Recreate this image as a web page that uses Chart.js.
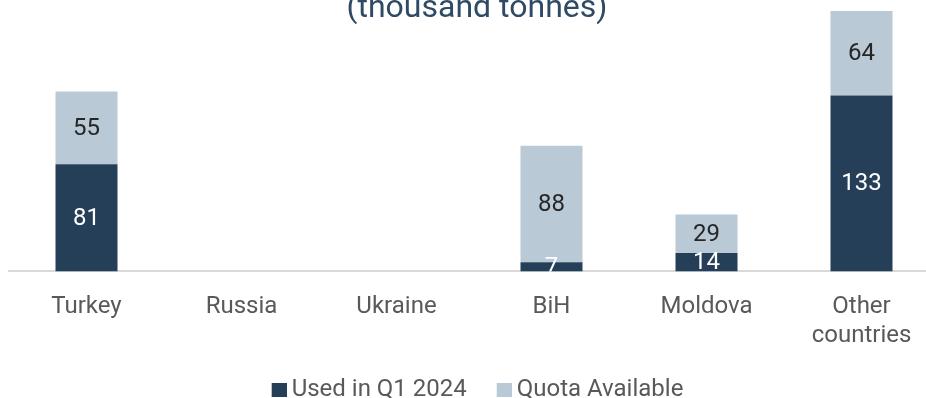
<!DOCTYPE html>
<html>
<head>
<meta charset="utf-8">
<script src="https://cdn.jsdelivr.net/npm/chart.js@4.4.1/dist/chart.umd.min.js"></script>
<style>
  html, body { margin: 0; padding: 0; background: #fff; overflow: hidden; }
  #wrap { position: absolute; left: 0; top: 0; width: 954px; height: 398px; }
</style>
</head>
<body>
<div id="wrap"><canvas id="myChart"></canvas></div>
<script>
const countries = ["Turkey", "Russia", "Ukraine", "BiH", "Moldova", ["Other", "countries"]];
const usedQ1 = [81, null, null, 7, 14, 133];
const quotaAvailable = [55, null, null, 88, 29, 64];
const titleText = "(thousand tonnes)";

const DARK = "#253F58";
const LIGHT = "#B9C9D5";
const FONT = "Roboto";

// legend swatch: square drawn on the right half of a wider canvas,
// so it sits close to its label text
function swatch(color) {
  const c = document.createElement("canvas");
  c.width = 29;
  c.height = 14;
  const g = c.getContext("2d");
  g.fillStyle = color;
  g.fillRect(14, 0, 15, 14);
  return c;
}
const swatches = [swatch(DARK), swatch(LIGHT)];

// value labels in the middle of each bar segment, kept inside the plot area
const barLabels = {
  id: "barLabels",
  afterDatasetsDraw(chart) {
    const ctx = chart.ctx;
    const area = chart.chartArea;
    ctx.save();
    ctx.beginPath();
    ctx.rect(area.left, area.top, area.right - area.left, area.bottom - area.top);
    ctx.clip();
    ctx.font = "24px " + FONT;
    ctx.textAlign = "center";
    ctx.textBaseline = "middle";
    chart.data.datasets.forEach((ds, i) => {
      const meta = chart.getDatasetMeta(i);
      meta.data.forEach((bar, j) => {
        const v = ds.data[j];
        if (v == null) return;
        ctx.fillStyle = i === 0 ? "#ffffff" : "#262626";
        ctx.fillText(String(v), bar.x, (bar.y + bar.base) / 2 + 1);
      });
    });
    ctx.restore();
  },
};

// heading sits over the plot, like the original layout
const heading = {
  id: "heading",
  afterDraw(chart) {
    const ctx = chart.ctx;
    ctx.save();
    ctx.font = "32px " + FONT;
    ctx.fillStyle = "#2E4A64";
    ctx.textAlign = "center";
    ctx.textBaseline = "alphabetic";
    ctx.fillText(titleText, chart.width / 2, 17);
    ctx.restore();
  },
};

const data = {
  labels: countries,
  datasets: [
    {
      label: "Used in Q1 2024",
      backgroundColor: DARK,
      data: usedQ1,
    },
    {
      label: "Quota Available",
      backgroundColor: LIGHT,
      data: quotaAvailable,
    },
  ],
};

const config = {
  type: "bar",
  data: data,
  options: {
    responsive: true,
    maintainAspectRatio: false,
    animation: false,
    categoryPercentage: 1,
    barPercentage: 0.4,
    layout: { padding: { left: 9, right: 15, top: 7, bottom: -14 } },
    scales: {
      x: {
        stacked: true,
        grid: { display: false },
        border: { color: "#D9D9D9", width: 2 },
        ticks: {
          color: "#595959",
          font: { family: FONT, size: 24 },
          padding: 13,
          maxRotation: 0,
          autoSkip: false,
        },
        afterFit(axis) {
          axis.height -= 8;
        },
      },
      y: {
        stacked: true,
        display: false,
        min: 0,
        max: 200,
      },
    },
    plugins: {
      legend: {
        position: "bottom",
        labels: {
          usePointStyle: true,
          pointStyleWidth: 15,
          boxHeight: 14,
          padding: 23,
          color: "#595959",
          font: { family: FONT, size: 24 },
          generateLabels(chart) {
            const items = Chart.defaults.plugins.legend.labels.generateLabels(chart);
            items.forEach((item, i) => { item.pointStyle = swatches[i]; });
            return items;
          },
        },
      },
      tooltip: { enabled: false },
    },
  },
  plugins: [barLabels, heading],
};

const barChart = new Chart(document.getElementById("myChart"), config);
</script>
</body>
</html>
